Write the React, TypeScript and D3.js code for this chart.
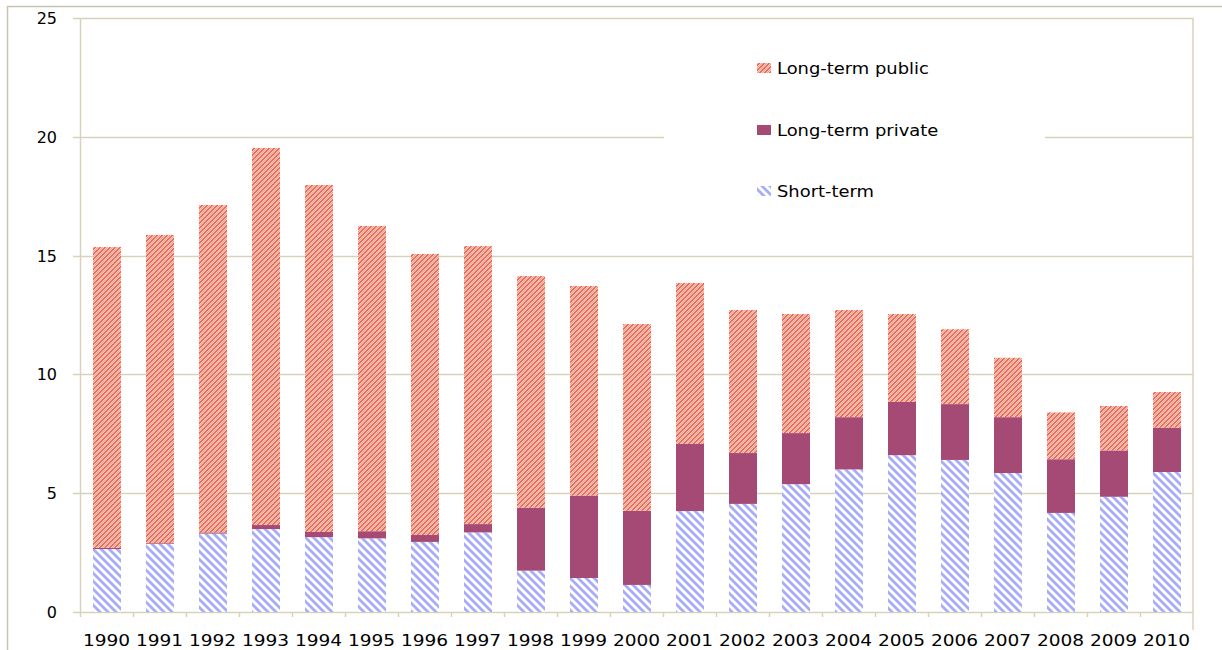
import { useEffect, useRef } from "react";
import * as d3 from "d3";

const years = [
  "1990", "1991", "1992", "1993", "1994", "1995", "1996", "1997", "1998", "1999", "2000",
  "2001", "2002", "2003", "2004", "2005", "2006", "2007", "2008", "2009", "2010",
];
const shortTerm = [
  2.65, 2.87, 3.3, 3.49, 3.15, 3.1, 2.95, 3.35, 1.74, 1.43, 1.14,
  4.25, 4.55, 5.38, 6.0, 6.6, 6.4, 5.85, 4.17, 4.85, 5.89,
];
const longTermPrivate = [
  0.05, 0.03, 0.05, 0.17, 0.22, 0.3, 0.29, 0.35, 2.65, 3.47, 3.12,
  2.82, 2.14, 2.15, 2.2, 2.24, 2.35, 2.35, 2.26, 1.95, 1.87,
];
const longTermPublic = [
  12.66, 12.97, 13.78, 15.87, 14.6, 12.85, 11.83, 11.7, 9.75, 8.82, 7.86,
  6.78, 6.02, 5.01, 4.51, 3.7, 3.15, 2.5, 1.97, 1.87, 1.5,
];
const yTicks = [0, 5, 10, 15, 20, 25];
const seriesKeys = ["short", "private", "public"];
const legendItems = [
  { key: "public", label: "Long-term public" },
  { key: "private", label: "Long-term private" },
  { key: "short", label: "Short-term" },
];

const App = () => {
  const ref = useRef<SVGSVGElement | null>(null);

  useEffect(() => {
    if (!ref.current) return;
    const svg = d3.select(ref.current);
    svg.selectAll("*").remove();

    const width = 1222,
      height = 650;
    const left = 80,
      right = 1193,
      top = 18,
      bottom = 612;
    const grid = "#d8d2bb";
    const font = "DejaVu Sans, Verdana, sans-serif";

    const defs = svg.append("defs");
    // short-term: wide light blue "\" stripes
    const pShort = defs
      .append("pattern")
      .attr("id", "pShort")
      .attr("patternUnits", "userSpaceOnUse")
      .attr("width", 8)
      .attr("height", 8);
    pShort.append("rect").attr("width", 8).attr("height", 8).attr("fill", "#fff");
    pShort
      .append("path")
      .attr("d", "M-2,-2 L10,10 M6,-2 L10,2 M-2,6 L2,10")
      .attr("stroke", "#a6acfa")
      .attr("stroke-width", 2.8)
      .attr("fill", "none");

    // long-term public: dense "/" stripes, salmon + red
    const pPub = defs
      .append("pattern")
      .attr("id", "pPub")
      .attr("patternUnits", "userSpaceOnUse")
      .attr("width", 5)
      .attr("height", 5);
    pPub.append("rect").attr("width", 5).attr("height", 5).attr("fill", "#fff");
    pPub
      .append("path")
      .attr("d", "M-1,1 L1,-1 M-1,6 L6,-1 M4,6 L6,4")
      .attr("stroke", "#f7a08c")
      .attr("stroke-width", 1.4)
      .attr("fill", "none");
    pPub
      .append("path")
      .attr("d", "M-1,3.5 L3.5,-1 M1.5,6 L6,1.5")
      .attr("stroke", "#e8341a")
      .attr("stroke-width", 1.1)
      .attr("fill", "none");

    const fills: Record<string, string> = {
      short: "url(#pShort)",
      private: "#a54a75",
      public: "url(#pPub)",
    };

    const x = d3.scaleBand().domain(years).range([left, right]).paddingInner(0).paddingOuter(0);
    const y = d3.scaleLinear().domain([0, 25]).range([bottom, top]);

    // outer frame
    svg
      .append("path")
      .attr("d", `M7.5,${height} V6.5 H${width}`)
      .attr("fill", "none")
      .attr("stroke", "#c9c4b0")
      .attr("stroke-width", 1.5);

    // gridlines
    svg
      .append("g")
      .selectAll("line")
      .data(yTicks)
      .enter()
      .append("line")
      .attr("x1", left - 7)
      .attr("x2", right)
      .attr("y1", (d) => Math.round(y(d)) + 0.5)
      .attr("y2", (d) => Math.round(y(d)) + 0.5)
      .attr("stroke", grid)
      .attr("stroke-width", 1.5);

    // legend background covers grid
    svg
      .append("rect")
      .attr("x", 664)
      .attr("y", 32)
      .attr("width", 381)
      .attr("height", 186)
      .attr("fill", "#fff");

    // plot borders
    svg
      .append("line")
      .attr("x1", left + 0.5)
      .attr("x2", left + 0.5)
      .attr("y1", top)
      .attr("y2", bottom + 5)
      .attr("stroke", grid)
      .attr("stroke-width", 1.5);
    svg
      .append("line")
      .attr("x1", right)
      .attr("x2", right)
      .attr("y1", top)
      .attr("y2", bottom + 18)
      .attr("stroke", grid)
      .attr("stroke-width", 1.5);

    // x ticks at band boundaries
    svg
      .append("g")
      .selectAll("line")
      .data(years.slice(1))
      .enter()
      .append("line")
      .attr("x1", (d) => Math.round(x(d)!) + 0.5)
      .attr("x2", (d) => Math.round(x(d)!) + 0.5)
      .attr("y1", bottom)
      .attr("y2", bottom + 5)
      .attr("stroke", grid)
      .attr("stroke-width", 1.5);

    // stacked bars
    const rows = years.map((yr, i) => ({
      year: yr,
      short: shortTerm[i],
      private: longTermPrivate[i],
      public: longTermPublic[i],
    }));
    const stack = d3.stack<any>().keys(seriesKeys)(rows);
    const barW = 28;
    stack.forEach((layer) => {
      svg
        .append("g")
        .selectAll("rect")
        .data(layer)
        .enter()
        .append("rect")
        .attr("x", (d: any) => Math.round(x(d.data.year)! + x.bandwidth() / 2 - barW / 2))
        .attr("y", (d) => y(d[1]))
        .attr("width", barW)
        .attr("height", (d) => y(d[0]) - y(d[1]))
        .attr("fill", fills[layer.key]);
    });

    // y labels
    svg
      .append("g")
      .selectAll("text")
      .data(yTicks)
      .enter()
      .append("text")
      .attr("x", 57)
      .attr("y", (d) => y(d) + 6)
      .attr("text-anchor", "end")
      .attr("font-family", font)
      .attr("font-size", 16)
      .attr("fill", "#000")
      .text((d) => d);

    // x labels (horizontally stretched, like the source)
    svg
      .append("g")
      .selectAll("text")
      .data(years)
      .enter()
      .append("text")
      .attr("transform", (d) => `translate(${x(d)! + x.bandwidth() / 2},646) scale(1.16,1)`)
      .attr("text-anchor", "middle")
      .attr("font-family", font)
      .attr("font-size", 16)
      .attr("fill", "#000")
      .text((d) => d);

    // legend
    const lg = svg.append("g");
    legendItems.forEach((item, i) => {
      const ly = 67 + i * 61.5;
      lg.append("rect")
        .attr("x", 757)
        .attr("y", Math.round(ly - 4))
        .attr("width", 14)
        .attr("height", 10)
        .attr("fill", fills[item.key]);
      lg.append("text")
        .attr("transform", `translate(777,${ly + 7}) scale(1.12,1)`)
        .attr("font-family", font)
        .attr("font-size", 16)
        .attr("fill", "#000")
        .text(item.label);
    });
  }, []);

  return (
    <svg
      ref={ref}
      width={1222}
      height={650}
      style={{ position: "absolute", left: 0, top: 0, background: "#fff" }}
    />
  );
};

export default App;
